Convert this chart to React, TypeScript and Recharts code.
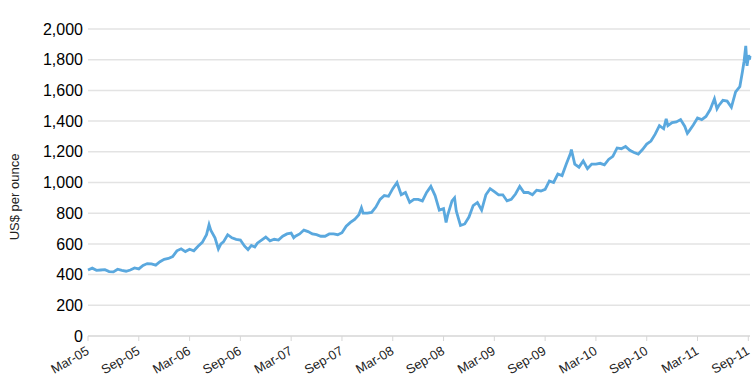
import { LineChart, Line, XAxis, YAxis, CartesianGrid } from 'recharts';

// months since Mar-05, gold price (US$/oz)
const months = [
  0, 0.5, 1, 1.5, 2, 2.5, 3, 3.5, 4, 4.5, 5, 5.5, 6, 6.5, 7, 7.5, 8, 8.5, 9, 9.5,
  10, 10.5, 11, 11.5, 12, 12.5, 13, 13.5, 14, 14.3, 14.5, 15, 15.4, 15.7, 16, 16.5, 17, 17.5,
  18, 18.5, 18.9, 19.3, 19.7, 20, 20.5, 21, 21.5, 22, 22.5, 23, 23.5, 24, 24.3, 24.5,
  25, 25.5, 26, 26.5, 27, 27.5, 28, 28.5, 29, 29.5, 30, 30.5, 31, 31.5, 32, 32.3, 32.5,
  33, 33.5, 34, 34.5, 35, 35.5, 36, 36.5, 37, 37.5, 38, 38.5, 39, 39.5, 40, 40.5, 41,
  41.5, 42, 42.3, 42.5, 43, 43.3, 43.5, 44, 44.5, 45, 45.5, 46, 46.5, 47, 47.5, 48, 48.5,
  49, 49.5, 50, 50.5, 51, 51.5, 52, 52.5, 53, 53.5, 54, 54.5, 55, 55.5, 56, 56.5, 57,
  57.1, 57.5, 58, 58.5, 59, 59.5, 60, 60.5, 61, 61.5, 62, 62.5, 63, 63.5, 64, 64.5, 65,
  65.5, 66, 66.5, 67, 67.5, 68, 68.3, 68.5, 69, 69.5, 70, 70.5, 70.8, 71, 71.5, 72, 72.5,
  73, 73.5, 74, 74.3, 74.5, 75, 75.5, 76, 76.5, 77, 77.3, 77.5, 77.7, 77.85, 78.05, 78.15, 78.2,
];
const gold = [
  430, 442, 428, 430, 432, 420, 418, 435, 428, 422, 430, 443, 437, 460, 472, 470, 462, 484, 500, 505,
  517, 555, 568, 550, 565, 555, 585, 610, 660, 725, 690, 640, 567, 600, 613, 660, 640, 630,
  625, 585, 563, 590, 580, 605, 625, 645, 620, 630, 625, 650, 665, 670, 640, 650,
  665, 690, 680, 665, 660, 650, 650, 665, 665, 660, 673, 715, 740, 760, 790, 835, 800,
  800, 805, 840, 890, 915, 910, 960, 1000, 920, 935, 870, 890, 890, 880, 935, 975, 915,
  820, 830, 740, 790, 880, 900, 815, 720, 730, 775, 850, 870, 820, 920, 960, 940, 920,
  920, 880, 890, 925, 975, 935, 935, 920, 950, 945, 955, 1010, 1000, 1055, 1045, 1120, 1190,
  1215, 1120, 1100, 1140, 1090, 1120, 1120, 1125, 1115, 1150, 1170, 1225, 1220, 1235, 1210, 1195, 1185,
  1215, 1250, 1270, 1315, 1370, 1350, 1415, 1370, 1390, 1395, 1410, 1365, 1320, 1335, 1375, 1420, 1410,
  1430, 1475, 1545, 1480, 1500, 1535, 1530, 1490, 1590, 1625, 1720, 1790, 1890, 1760, 1830, 1800, 1825,
];

const tickMonths = [0, 6, 12, 18, 24, 30, 36, 42, 48, 54, 60, 66, 72, 78];
const tickLabels = [
  'Mar-05', 'Sep-05', 'Mar-06', 'Sep-06', 'Mar-07', 'Sep-07', 'Mar-08',
  'Sep-08', 'Mar-09', 'Sep-09', 'Mar-10', 'Sep-10', 'Mar-11', 'Sep-11',
];
const yTicks = [0, 200, 400, 600, 800, 1000, 1200, 1400, 1600, 1800, 2000];

const data = months.map((m, i) => ({ m, price: gold[i] }));

const DateTick = ({ x, y, payload }: any) => {
  const idx = tickMonths.indexOf(payload.value);
  return (
    <g transform={`translate(${x},${y + 7})`}>
      <text x={0} y={0} dy={4} textAnchor="end" transform="rotate(-30)" fontSize={13} fill="#222"
        fontFamily="'Liberation Sans', Arial, sans-serif">
        {tickLabels[idx]}
      </text>
    </g>
  );
};

export default function App() {
  return (
    <div style={{ position: 'absolute', left: 0, top: 0, width: 754, height: 378, background: '#fff' }}>
      <LineChart width={754} height={378} data={data} margin={{ top: 29, right: 4, bottom: 0, left: 0 }}>
        <CartesianGrid vertical={false} stroke="#e3e3e3" strokeWidth={1.5} />
        <XAxis
          dataKey="m"
          type="number"
          domain={[0, 78.2]}
          ticks={tickMonths}
          tick={<DateTick />}
          interval={0}
          height={42}
          stroke="#d6d6d6"
          tickSize={5}
        />
        <YAxis
          width={88}
          domain={[0, 2000]}
          ticks={yTicks}
          axisLine={false}
          tickLine={false}
          tickSize={0}
          tickMargin={5}
          tickFormatter={(v: number) => v.toLocaleString('en-US')}
          tick={{ fontSize: 16, fill: '#000', fontFamily: "'Liberation Sans', Arial, sans-serif" }}
        />
        <Line
          type="linear"
          dataKey="price"
          stroke="#5aa8de"
          strokeWidth={2.8}
          dot={false}
          isAnimationActive={false}
        />
        <text x={14} y={197} transform="rotate(-90 14 197)" textAnchor="middle" dominantBaseline="central"
          fontSize={13} fill="#222" fontFamily="'Liberation Sans', Arial, sans-serif">
          US$ per ounce
        </text>
      </LineChart>
    </div>
  );
}
